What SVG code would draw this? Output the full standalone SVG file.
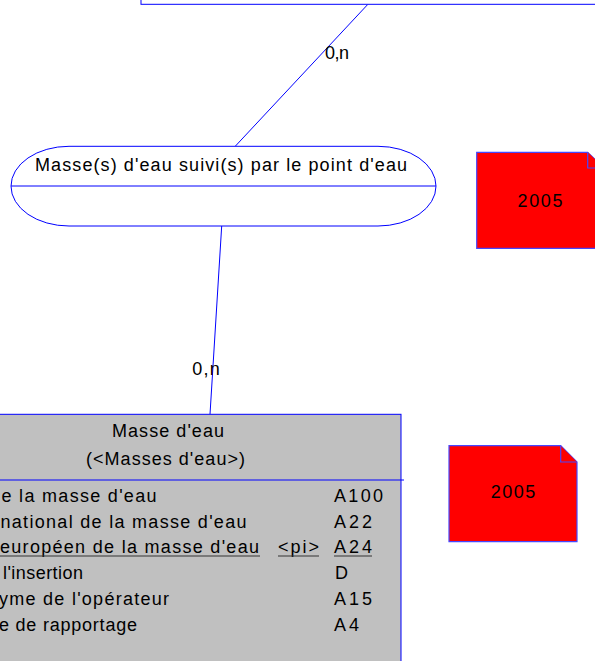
<svg xmlns="http://www.w3.org/2000/svg" width="595" height="661" viewBox="0 0 595 661">
<style>
text{font-family:"Liberation Sans",Arial,sans-serif;font-size:18px;fill:#000;}
.c{text-anchor:middle;}
.ln{stroke:#0000ff;stroke-width:1;fill:none;}
.ent{fill:#c0c0c0;stroke:#0000ff;stroke-width:1;}
.note{fill:#ff0000;stroke:#4646ff;stroke-width:1.2;}
.ul{stroke:#333;stroke-width:1.2;}
</style>
<rect width="595" height="661" fill="#ffffff"/>
<g id="connectors">
<line class="ln" x1="367.7" y1="4.5" x2="235" y2="146.5"/>
<text x="325" y="58.5" textLength="24" lengthAdjust="spacing">0,n</text>
<line class="ln" x1="221.7" y1="226" x2="210" y2="414.3"/>
<text x="192.3" y="375" textLength="27.5" lengthAdjust="spacing">0,n</text>
</g>
<g id="entity-top">
<rect x="141" y="-40" width="500" height="44.3" fill="#ffffff" stroke="#0000ff" stroke-width="1"/>
</g>
<g id="association">
<rect x="11" y="146.3" width="425" height="79.7" rx="58" ry="40" fill="#ffffff" stroke="#0000ff" stroke-width="1"/>
<line class="ln" x1="11" y1="186" x2="436" y2="186"/>
<text class="c" x="221" y="171" textLength="372" lengthAdjust="spacing">Masse(s) d'eau suivi(s) par le point d'eau</text>
</g>
<g id="note1">
<path class="note" d="M476.7,152.3 H587.7 L604,168 V248.3 H476.7 Z"/>
<path class="note" d="M587.7,152.3 V168 H604"/>
<text class="c" x="540" y="206.7" textLength="45" lengthAdjust="spacing">2005</text>
</g>
<g id="entity-masse-eau">
<rect class="ent" x="-60" y="414.3" width="461" height="300"/>
<line class="ln" x1="-60" y1="480" x2="404" y2="480"/>
<text class="c" x="168" y="437" textLength="112" lengthAdjust="spacing">Masse d'eau</text>
<text class="c" x="165.5" y="465" textLength="159" lengthAdjust="spacing">(&lt;Masses d'eau&gt;)</text>
<text x="1.5" y="502" textLength="155" lengthAdjust="spacing">e la masse d'eau</text>
<text x="334" y="502" textLength="49" lengthAdjust="spacing">A100</text>
<text x="0.5" y="527.7" textLength="246" lengthAdjust="spacing">national de la masse d'eau</text>
<text x="334" y="527.7" textLength="38" lengthAdjust="spacing">A22</text>
<text x="0" y="553.4" textLength="259" lengthAdjust="spacing">européen de la masse d'eau</text>
<text x="278" y="553.4" textLength="41" lengthAdjust="spacing">&lt;pi&gt;</text>
<text x="334" y="553.4" textLength="38" lengthAdjust="spacing">A24</text>
<line class="ul" x1="0" y1="556" x2="260" y2="556"/>
<line class="ul" x1="278" y1="556" x2="319" y2="556"/>
<line class="ul" x1="334" y1="556" x2="372" y2="556"/>
<text x="3" y="579.1" textLength="80" lengthAdjust="spacing">l'insertion</text>
<text x="335" y="579.1">D</text>
<text x="-1" y="604.8" textLength="170" lengthAdjust="spacing">yme de l'opérateur</text>
<text x="334" y="604.8" textLength="38" lengthAdjust="spacing">A15</text>
<text x="-1" y="630.5" textLength="138" lengthAdjust="spacing">e de rapportage</text>
<text x="334" y="630.5" textLength="25" lengthAdjust="spacing">A4</text>
</g>
<g id="note2">
<path class="note" d="M449,445.7 H560.7 L577,462 V541.7 H449 Z"/>
<path class="note" d="M560.7,445.7 V462 H577"/>
<text class="c" x="513" y="498.3" textLength="44.7" lengthAdjust="spacing">2005</text>
</g>
</svg>
